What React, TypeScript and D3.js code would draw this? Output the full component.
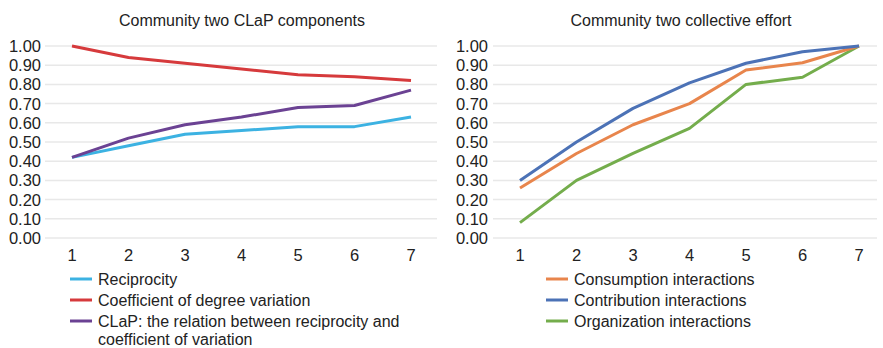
import React from "react";
import * as d3 from "d3";

const xCats = [1, 2, 3, 4, 5, 6, 7];
const yTicks = [0, 0.1, 0.2, 0.3, 0.4, 0.5, 0.6, 0.7, 0.8, 0.9, 1.0];

const reciprocity = [0.42, 0.48, 0.54, 0.56, 0.58, 0.58, 0.63];
const coefVariation = [1.0, 0.94, 0.91, 0.88, 0.85, 0.84, 0.82];
const clap = [0.42, 0.52, 0.59, 0.63, 0.68, 0.69, 0.77];

const consumption = [0.26, 0.44, 0.59, 0.7, 0.875, 0.913, 1.0];
const contribution = [0.3, 0.5, 0.675, 0.808, 0.91, 0.97, 1.0];
const organization = [0.08, 0.3, 0.441, 0.571, 0.8, 0.837, 1.0];

const leftTitle = "Community two CLaP components";
const rightTitle = "Community two collective effort";

const leftSeries = [
  { name: ["Reciprocity"], values: reciprocity, color: "#3cb2e2" },
  { name: ["Coefficient of degree variation"], values: coefVariation, color: "#d63a3c" },
  {
    name: ["CLaP: the relation between reciprocity and", "coefficient of variation"],
    values: clap,
    color: "#6b4293",
  },
];
const rightSeries = [
  { name: ["Consumption interactions"], values: consumption, color: "#e8854c" },
  { name: ["Contribution interactions"], values: contribution, color: "#4c72b6" },
  { name: ["Organization interactions"], values: organization, color: "#74ad4c" },
];

const FONT = "'Liberation Sans', Arial, Helvetica, sans-serif";
const TXT = "#222";

type Series = { name: string[]; values: number[]; color: string };

function Panel(props: {
  ox: number;
  title: string;
  titleX: number;
  gridX0: number;
  gridX1: number;
  x1: number;
  x7: number;
  labelX: number;
  series: Series[];
  drawOrder: number[];
  legX: number;
  legRows: number[];
}) {
  const y = d3.scaleLinear().domain([0, 1]).range([238, 46]);
  const x = d3.scaleLinear().domain([1, 7]).range([props.x1, props.x7]);
  const line = d3
    .line<number>()
    .x((_, i) => x(xCats[i]))
    .y((d) => y(d));
  return (
    <g transform={`translate(${props.ox},0)`}>
      <text x={props.titleX} y={26} textAnchor="middle" fontSize={16} fill={TXT} fontFamily={FONT}>
        {props.title}
      </text>
      {yTicks.map((t) => (
        <g key={t}>
          <line x1={props.gridX0} x2={props.gridX1} y1={y(t)} y2={y(t)} stroke="#e8e8e8" strokeWidth={1.5} />
          <text
            x={props.labelX}
            y={y(t)}
            dy="0.36em"
            textAnchor="end"
            fontSize={16.5}
            fill={TXT}
            fontFamily={FONT}
          >
            {t.toFixed(2)}
          </text>
        </g>
      ))}
      {xCats.map((c) => (
        <text key={c} x={x(c)} y={261} textAnchor="middle" fontSize={16.5} fill={TXT} fontFamily={FONT}>
          {c}
        </text>
      ))}
      {props.drawOrder.map((i) => {
        const s = props.series[i];
        return (
          <path
            key={i}
            d={line(s.values) || ""}
            fill="none"
            stroke={s.color}
            strokeWidth={3}
            strokeLinejoin="round"
          />
        );
      })}
      {props.series.map((s, i) => (
        <g key={i}>
          <line
            x1={props.legX}
            x2={props.legX + 22}
            y1={props.legRows[i]}
            y2={props.legRows[i]}
            stroke={s.color}
            strokeWidth={3}
          />
          {s.name.map((n, j) => (
            <text
              key={j}
              x={props.legX + 28}
              y={props.legRows[i] + j * 18}
              dy="0.35em"
              fontSize={16}
              fill={TXT}
              fontFamily={FONT}
            >
              {n}
            </text>
          ))}
        </g>
      ))}
    </g>
  );
}

export default function App() {
  return (
    <svg width={883} height={348} style={{ position: "absolute", left: 0, top: 0, background: "#fff" }}>
      <rect width={883} height={348} fill="#fff" />
      <Panel
        ox={0}
        title={leftTitle}
        titleX={242}
        gridX0={45}
        gridX1={437}
        x1={72}
        x7={411}
        labelX={41}
        series={leftSeries}
        drawOrder={[0, 1, 2]}
        legX={70}
        legRows={[279, 300, 321]}
      />
      <Panel
        ox={440}
        title={rightTitle}
        titleX={241}
        gridX0={53}
        gridX1={437}
        x1={80}
        x7={419}
        labelX={48}
        series={rightSeries}
        drawOrder={[2, 0, 1]}
        legX={106}
        legRows={[279, 300, 321]}
      />
    </svg>
  );
}
